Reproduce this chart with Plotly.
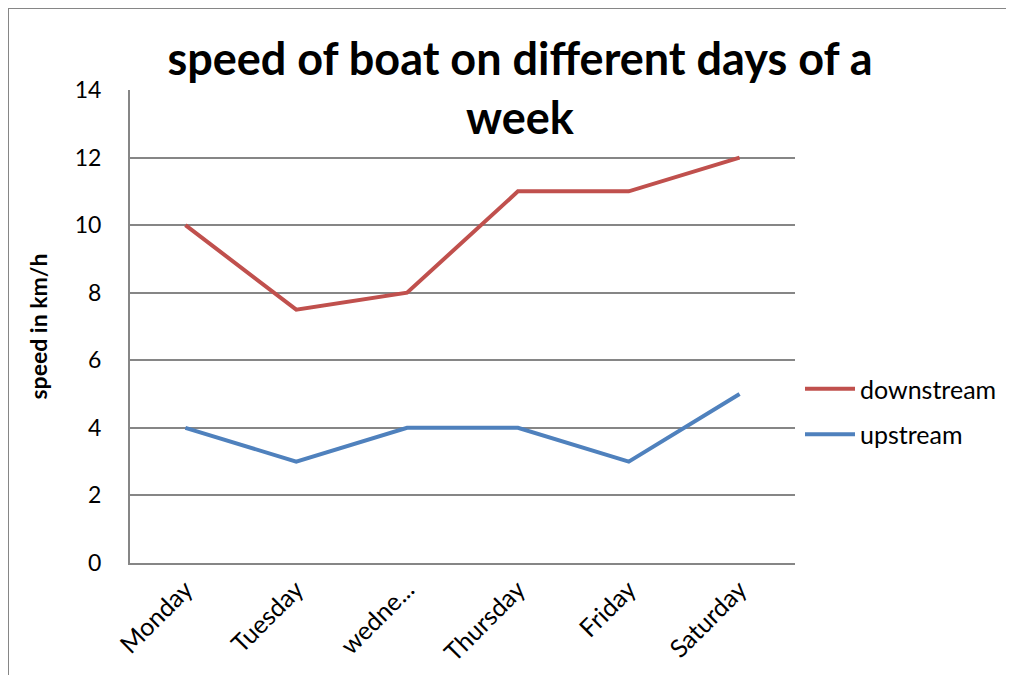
import plotly.graph_objects as go

days = ["Monday", "Tuesday", "wedne...", "Thursday", "Friday", "Saturday"]
downstream = [10, 7.5, 8, 11, 11, 12]
upstream = [4, 3, 4, 4, 3, 5]
y_ticks = [0, 2, 4, 6, 8, 10, 12, 14]

# page renders with an 8px body offset; coordinates below are page pixels
OFF = 8
W, H = 1014, 675
PL, PR, PT, PB = 130, 795, 90, 563  # plot area in page pixels
L, T = PL - OFF, PT - OFF
R, B = W - (PR - OFF), H - (PB - OFF)
pw, ph = PR - PL, PB - PT

fig = go.Figure()
fig.add_trace(go.Scatter(x=days, y=downstream, name="downstream", mode="lines",
                         legendgroup="a",
                         line=dict(color="#C0504D", width=4)))
fig.add_trace(go.Scatter(x=days, y=upstream, name="upstream", mode="lines",
                         legendgroup="b",
                         line=dict(color="#4F81BD", width=4)))

def px2x(p):
    return (p - PL) / pw

def px2y(p):
    return (PB - p) / ph

FONT = "Lato, Carlito, Calibri, sans-serif"
fig.update_layout(
    width=W, height=H,
    margin=dict(l=L, r=R, t=T, b=B),
    paper_bgcolor="white", plot_bgcolor="white",
    font=dict(family=FONT, color="black", size=22),
    title=dict(text="<b>speed of boat on different days of a<br>week</b>",
               x=(520 - OFF) / W, xanchor="center",
               y=1 - (75 - OFF) / H, yanchor="middle",
               font=dict(size=45, family=FONT)),
    showlegend=True,
    legend=dict(x=px2x(800), xanchor="left", y=px2y(366), yanchor="top",
                font=dict(size=25), tracegroupgap=10, itemwidth=50,
                bgcolor="rgba(0,0,0,0)"),
    xaxis=dict(type="category", tickangle=-45, showgrid=False,
               showline=True, linecolor="#868686", linewidth=2,
               ticks="", tickfont=dict(size=25), range=[-0.5, 5.5]),
    yaxis=dict(range=[0, 14], tickvals=y_ticks, showgrid=True,
               gridcolor="#868686", gridwidth=1.5, zeroline=False,
               showline=True, linecolor="#868686", linewidth=2,
               ticks="", ticklabelstandoff=22,
               tickfont=dict(size=23),
               title=dict(text="<b>speed in km/h</b>", font=dict(size=23), standoff=21)),
    shapes=[
        dict(type="line", xref="paper", yref="paper",
             x0=px2x(8), x1=px2x(1030), y0=px2y(8), y1=px2y(8),
             line=dict(color="#868686", width=2)),
        dict(type="line", xref="paper", yref="paper",
             x0=px2x(8), x1=px2x(8), y0=px2y(8), y1=px2y(700),
             line=dict(color="#868686", width=2)),
    ],
)

fig.write_html("out.html")
